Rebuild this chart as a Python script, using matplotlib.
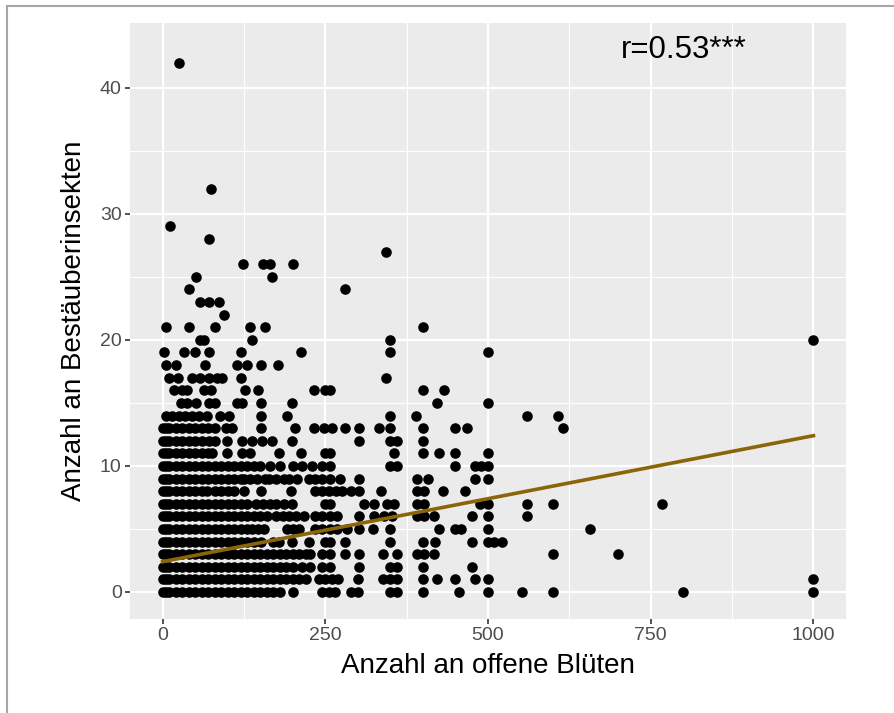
import matplotlib.pyplot as plt
from matplotlib.lines import Line2D
import numpy as np

plt.rcParams['font.family'] = ['Liberation Sans', 'DejaVu Sans']

# x values (open flowers) of the points on each row of the count of pollinators
rows = {
    0: [0, 5, 10, 20, 30, 40, 50, 60, 70, 80, 90, 100, 110, 120, 130, 140, 150, 160, 170, 180,
        200, 245, 255, 265, 290, 300, 350, 360, 400, 455, 500, 553, 600, 800, 1000],
    1: [0, 5, 10, 20, 30, 40, 50, 60, 70, 80, 90, 100, 110, 120, 130, 140, 150, 160, 170, 180,
        190, 200, 210, 220, 240, 250, 260, 270, 300, 338, 350, 360, 400, 421, 450, 480, 500, 1000],
    2: [0, 5, 10, 20, 30, 40, 50, 60, 70, 80, 90, 100, 110, 120, 130, 140, 150, 160, 170, 180,
        190, 200, 215, 227, 245, 258, 302, 350, 360, 400, 476],
    3: [0, 5, 10, 20, 30, 40, 50, 60, 70, 80, 90, 100, 110, 120, 130, 140, 150, 160, 170, 180,
        190, 200, 210, 220, 227, 245, 258, 281, 302, 339, 360, 391, 401, 417, 600, 700],
    4: [0, 5, 10, 20, 30, 40, 50, 60, 70, 80, 90, 100, 110, 120, 130, 140, 151, 169, 179, 199,
        225, 250, 258, 281, 350, 400, 419, 476, 500, 510, 521],
    5: [0, 5, 10, 20, 30, 40, 50, 60, 70, 80, 90, 100, 110, 120, 130, 138, 147, 156, 191, 200,
        209, 235, 245, 258, 268, 284, 302, 324, 350, 424, 450, 458, 500, 656],
    6: [0, 5, 10, 20, 30, 40, 50, 60, 70, 80, 90, 100, 110, 120, 130, 140, 150, 160, 174, 185,
        195, 205, 217, 235, 245, 258, 268, 302, 325, 340, 353, 391, 401, 417, 476, 500, 560],
    7: [0, 5, 10, 20, 30, 40, 50, 60, 70, 80, 90, 100, 110, 120, 130, 143, 155, 165, 175, 186,
        199, 250, 258, 309, 325, 345, 355, 391, 401, 488, 500, 560, 600, 768],
    8: [0, 5, 10, 20, 30, 40, 50, 60, 69, 80, 90, 100, 110, 125, 151, 197, 235, 245, 255, 266,
        275, 290, 302, 336, 391, 401, 431, 464],
    9: [0, 5, 10, 20, 30, 40, 50, 60, 70, 80, 90, 100, 110, 120, 125, 135, 145, 158, 163, 175,
        186, 194, 207, 225, 235, 245, 258, 273, 302, 391, 408, 480, 500],
    10: [0, 5, 10, 20, 30, 40, 50, 60, 70, 80, 90, 100, 110, 120, 130, 140, 150, 165, 180, 200,
         215, 230, 245, 258, 350, 360, 450, 480, 490, 500],
    11: [0, 5, 10, 20, 30, 40, 50, 60, 70, 76, 99, 122, 135, 179, 212, 250, 258, 356, 400, 424,
         449, 500],
    12: [0, 5, 10, 20, 30, 40, 50, 60, 71, 81, 99, 122, 138, 153, 168, 199, 302, 350, 360, 400],
    13: [0, 5, 10, 20, 30, 40, 50, 60, 70, 80, 97, 107, 151, 204, 233, 248, 261, 281, 302, 332,
         350, 400, 450, 468, 615],
    14: [5, 15, 25, 35, 46, 56, 69, 89, 102, 151, 191, 350, 390, 560, 608],
    15: [28, 38, 51, 71, 81, 115, 122, 151, 199, 421, 500],
    16: [17, 30, 38, 64, 74, 126, 147, 233, 250, 258, 400, 432],
    17: [10, 23, 46, 58, 71, 84, 92, 121, 344],
    18: [6, 20, 66, 115, 130, 151, 177],
    19: [2, 33, 50, 71, 121, 212, 350, 500],
    20: [58, 64, 138, 350, 1000],
    21: [5, 40, 81, 134, 157, 400],
    22: [95],
    23: [58, 72, 86],
    24: [40, 280],
    25: [51, 168],
    26: [124, 154, 165, 201],
    27: [344],
    28: [71],
    29: [11],
    32: [75],
    42: [25],
}

fit_intercept = 2.4
fit_slope = 0.01
fit_range = [0, 1000]
label = "r=0.53***"

xs = [x for y, xl in rows.items() for x in xl]
ys = [y for y, xl in rows.items() for x in xl]

fig = plt.figure(figsize=(8.94, 7.13), dpi=100)
ax = fig.add_axes([0.1454, 0.1318, 0.8009, 0.836])

ax.set_facecolor('#EBEBEB')
ax.set_xlim(-50, 1050)
ax.set_ylim(-2.15, 45.15)
ax.set_xticks([0, 250, 500, 750, 1000])
ax.set_yticks([0, 10, 20, 30, 40])
ax.set_xticks([125, 375, 625, 875], minor=True)
ax.set_yticks([5, 15, 25, 35], minor=True)
ax.grid(which='major', color='white', linewidth=1.6)
ax.grid(which='minor', color='white', linewidth=0.8)
ax.set_axisbelow(True)
for s in ax.spines.values():
    s.set_visible(False)
ax.tick_params(which='major', length=3.5, width=1.2, color='#333333',
               labelsize=14, labelcolor='#4D4D4D', pad=2.5)
ax.tick_params(which='minor', length=0)

ax.scatter(xs, ys, s=58, color='black', linewidths=0, zorder=3)

fx = np.array(fit_range)
ax.plot(fx, fit_intercept + fit_slope * fx, color='#8B6508', linewidth=2.6, zorder=4)

ax.text(800, 43.0, label, ha='center', va='center', fontsize=22.5, color='black')

ax.set_xlabel('Anzahl an offene Blüten', fontsize=20, labelpad=6)
ax.set_ylabel('Anzahl an Bestäuberinsekten', fontsize=20, labelpad=9)

# grey frame at the top and left of the picture
fig.add_artist(Line2D([7 / 894, 1], [1 - 6 / 713, 1 - 6 / 713], color='#A6A6A6', linewidth=1.5))
fig.add_artist(Line2D([7 / 894, 7 / 894], [0, 1 - 6 / 713], color='#A6A6A6', linewidth=1.5))

fig.savefig('out.png', dpi=100)
